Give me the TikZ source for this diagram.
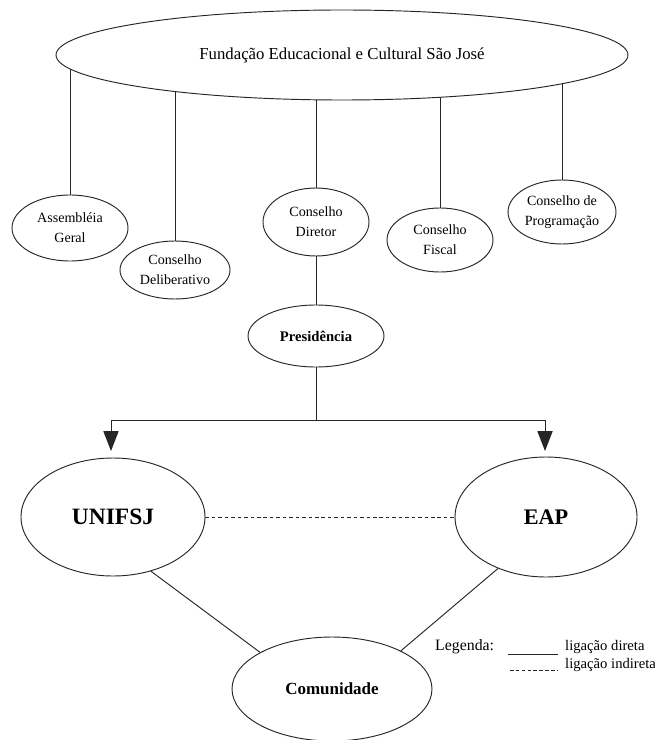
\documentclass[tikz,border=0pt]{standalone}
\usepackage{fontspec}
\setmainfont{Liberation Serif}
\usetikzlibrary{shapes.geometric,arrows.meta,backgrounds}
\begin{document}
\begin{tikzpicture}[x=0.03cm,y=-0.03cm,
  line/.style={draw=black!85,line width=0.8pt},
  ell/.style={ellipse,draw=black!85,line width=0.8pt,fill=white,inner sep=0pt,align=center},
  small/.style={font=\fontsize{12}{17}\selectfont},
  arr/.style={line,-{Triangle[width=13pt,length=17pt]}}]
\useasboundingbox (0,0) rectangle (655,740);
\node[ell,minimum width={572*0.03cm},minimum height={90*0.03cm},font=\fontsize{14.3}{17}\selectfont] (top) at (342,55) {Fundação Educacional e Cultural São José};
\node[ell,small,minimum width={116*0.03cm},minimum height={66*0.03cm}] (ag) at (70,228) {Assembléia\\Geral};
\node[ell,small,minimum width={110*0.03cm},minimum height={58*0.03cm}] (cdl) at (175,270) {Conselho\\Deliberativo};
\node[ell,small,minimum width={106*0.03cm},minimum height={68*0.03cm}] (cd) at (316,222) {Conselho\\Diretor};
\node[ell,small,minimum width={106*0.03cm},minimum height={64*0.03cm}] (cf) at (440,240) {Conselho\\Fiscal};
\node[ell,small,minimum width={108*0.03cm},minimum height={64*0.03cm}] (cp) at (562,212) {Conselho de\\Programação};
\node[ell,minimum width={136*0.03cm},minimum height={62*0.03cm},font=\fontsize{12.5}{15}\selectfont\bfseries] (pres) at (316,336) {Presidência};
\node[ell,minimum width={184*0.03cm},minimum height={118*0.03cm},font=\fontsize{20}{24}\selectfont\bfseries] (un) at (113,517) {UNIFSJ};
\node[ell,minimum width={182*0.03cm},minimum height={120*0.03cm},font=\fontsize{19}{24}\selectfont\bfseries] (eap) at (546,517) {EAP};
\node[ell,minimum width={200*0.03cm},minimum height={104*0.03cm},font=\fontsize{14.5}{18}\selectfont\bfseries] (com) at (332,689) {Comunidade};
\coordinate (br) at (316,420);
\coordinate (ua) at (111,451);
\coordinate (ea) at (545,451);
\begin{scope}[on background layer]
\draw[line] (ag.center) -- (ag.center |- top.center);
\draw[line] (cdl.center) -- (cdl.center |- top.center);
\draw[line] (cd.center) -- (cd.center |- top.center);
\draw[line] (cf.center) -- (cf.center |- top.center);
\draw[line] (cp.center) -- (cp.center |- top.center);
\end{scope}
\draw[line] (cd) -- (pres);
\draw[line] (pres) -- (br);
\draw[arr] (br) -| (ua);
\draw[arr] (br) -| (ea);
\draw[line,dash pattern=on 3pt off 2.5pt] (un) -- (eap);
\draw[line] (un.-55) -- (com.153);
\draw[line] (eap.-133) -- (com.29);
% legend
\node[anchor=base west,font=\fontsize{13.5}{16}\selectfont,inner sep=0pt] (leg) at (435,650) {Legenda:};
\coordinate (l1a) at (508,654);
\coordinate (l1b) at (558,654);
\coordinate (l2a) at (510,670);
\coordinate (l2b) at (558,670);
\draw[line] (l1a) -- (l1b);
\draw[line,dash pattern=on 3pt off 2pt] (l2a) -- (l2b);
\node[anchor=base west,font=\fontsize{12.5}{15}\selectfont,inner sep=0pt] (t1) at (565,650) {ligação direta};
\node[anchor=base west,font=\fontsize{12.5}{15}\selectfont,inner sep=0pt] (t2) at (565,668) {ligação indireta};
\end{tikzpicture}
\end{document}
